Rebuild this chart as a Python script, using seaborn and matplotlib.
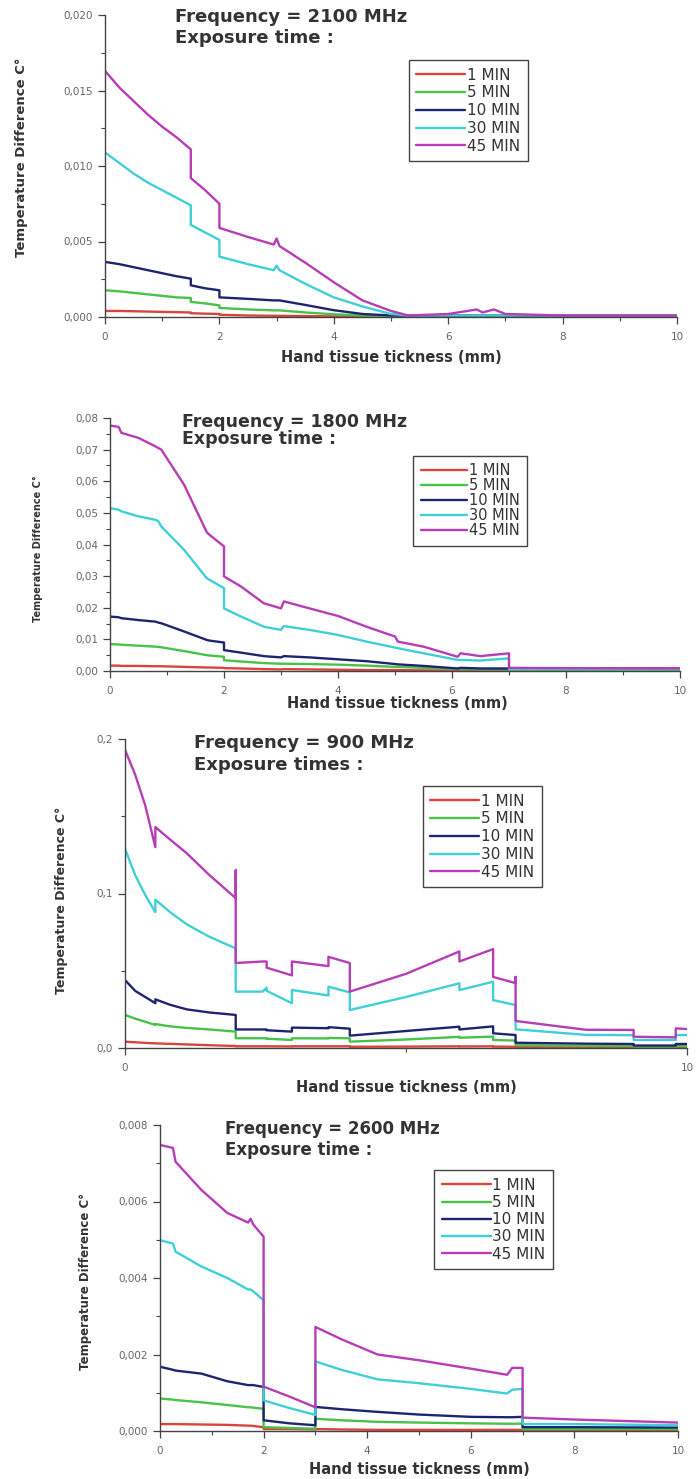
import matplotlib
matplotlib.use("Agg")
import numpy as np
import pandas as pd
import matplotlib.pyplot as plt
import seaborn as sns
from matplotlib.ticker import MultipleLocator, FuncFormatter

# series names and colours
LABELS = ["1 MIN", "5 MIN", "10 MIN", "30 MIN", "45 MIN"]
COLORS = ["#d9443c", "#49c24a", "#1f2470", "#3fcfd6", "#b83cb5"]

# ---- 2100 MHz ----
x_2100 = [0, 0.25, 0.5, 0.75, 1.0, 1.25, 1.5, 1.5, 1.75, 2.0, 2.0, 2.5, 2.95, 3.0, 3.05,
          3.5, 4.0, 4.5, 5.0, 5.3, 6.0, 6.5, 6.6, 6.8, 7.0, 8.0, 10.0]
t45_2100 = [0.0163, 0.0152, 0.0143, 0.0134, 0.0126, 0.0119, 0.0111, 0.0092, 0.0084, 0.0075,
            0.0059, 0.0053, 0.0048, 0.0052, 0.0047, 0.0036, 0.0023, 0.0011, 0.0004, 0.0001,
            0.0002, 0.0005, 0.0003, 0.0005, 0.0002, 0.0001, 0.0001]
t30_2100 = [0.0109, 0.0102, 0.0095, 0.0089, 0.0084, 0.0079, 0.0074, 0.0061, 0.0056, 0.0051,
            0.0040, 0.0035, 0.0031, 0.0034, 0.0031, 0.0022, 0.0013, 0.0007, 0.0002, 0.0001,
            0.0001, 0.0001, 0.0001, 0.0001, 0.0001, 0.0001, 0.0001]
t10_2100 = [0.00365, 0.0035, 0.0033, 0.0031, 0.0029, 0.0027, 0.00254, 0.0021, 0.0019, 0.00177,
            0.0013, 0.0012, 0.0011, 0.0011, 0.0011, 0.0008, 0.00045, 0.0002, 0.0001, 0.0001,
            0.0001, 0.0001, 0.0001, 0.0001, 0.0001, 0.0001, 0.0001]
t5_2100 = [0.00177, 0.0017, 0.0016, 0.0015, 0.0014, 0.0013, 0.00126, 0.0010, 0.0009, 0.00077,
           0.0006, 0.0005, 0.00044, 0.00044, 0.00044, 0.0003, 0.00018, 0.0001, 0.00004, 0.00003,
           0.00003, 0.00003, 0.00003, 0.00003, 0.00003, 0.00003, 0.00003]
t1_2100 = [0.0004, 0.0004, 0.00038, 0.00036, 0.00034, 0.00032, 0.0003, 0.00025, 0.00022, 0.0002,
           0.00015, 0.0001, 0.00008, 0.00008, 0.00008, 0.00006, 0.00004, 0.00002, 0.00001, 0.0,
           0.0, 0.0, 0.0, 0.0, 0.0, 0.0, 0.0]

# ---- 1800 MHz ----
x_1800 = [0, 0.15, 0.2, 0.5, 0.8, 0.85, 0.9, 1.3, 1.7, 1.75, 2.0, 2.0, 2.3, 2.7, 3.0, 3.05,
          3.5, 4.0, 4.5, 5.0, 5.05, 5.5, 6.1, 6.15, 6.5, 7.0, 7.0, 8.0, 10.0]
t45_1800 = [0.0776, 0.0772, 0.0753, 0.0737, 0.0710, 0.0705, 0.0700, 0.0589, 0.0438, 0.0430,
            0.0394, 0.0299, 0.0267, 0.0214, 0.0198, 0.0220, 0.0198, 0.0174, 0.0140, 0.0109,
            0.0093, 0.0077, 0.0045, 0.0056, 0.0047, 0.0056, 0.0010, 0.0009, 0.0008]
t30_1800 = [0.0515, 0.0510, 0.0505, 0.0489, 0.0478, 0.0473, 0.0457, 0.0383, 0.0293, 0.0288,
            0.0262, 0.0198, 0.0172, 0.0140, 0.0130, 0.0142, 0.0130, 0.0114, 0.0093, 0.0074,
            0.0072, 0.0056, 0.0035, 0.0035, 0.0033, 0.0040, 0.0006, 0.0006, 0.0006]
t10_1800 = [0.0172, 0.0170, 0.0167, 0.0161, 0.0156, 0.0153, 0.0151, 0.0125, 0.0098, 0.0096,
            0.0090, 0.0066, 0.0058, 0.0047, 0.0043, 0.0047, 0.0043, 0.0037, 0.0031, 0.0022,
            0.0021, 0.0016, 0.0008, 0.0010, 0.0008, 0.0008, 0.0008, 0.0008, 0.0008]
t5_1800 = [0.0085, 0.0084, 0.0083, 0.0080, 0.0077, 0.0076, 0.0075, 0.0063, 0.0050, 0.0049,
           0.0045, 0.0034, 0.0030, 0.0025, 0.0023, 0.0023, 0.0022, 0.0020, 0.0017, 0.0013,
           0.0013, 0.0010, 0.0006, 0.0006, 0.0005, 0.0005, 0.0004, 0.0004, 0.0003]
t1_1800 = [0.0017, 0.0017, 0.0016, 0.0016, 0.0015, 0.0015, 0.0015, 0.0013, 0.0011, 0.0011,
           0.0010, 0.0009, 0.0008, 0.0006, 0.0005, 0.0006, 0.0005, 0.0004, 0.0003, 0.0003,
           0.0003, 0.0002, 0.0002, 0.0002, 0.0002, 0.0002, 0.0001, 0.0001, 0.0001]

# ---- 900 MHz ----
x_900 = [0, 0.18, 0.36, 0.54, 0.54, 0.8, 1.1, 1.5, 1.97, 1.97, 1.97, 2.45, 2.52, 2.52,
         2.97, 2.97, 3.62, 3.62, 4.0, 4.0, 5.0, 5.95, 5.95, 6.55, 6.55, 6.95, 6.95, 6.95,
         8.2, 9.05, 9.05, 9.8, 9.8, 10.0]
t45_900 = [0.193, 0.177, 0.157, 0.130, 0.143, 0.135, 0.126, 0.112, 0.097, 0.115, 0.055, 0.056,
           0.056, 0.052, 0.047, 0.056, 0.053, 0.059, 0.055, 0.0365, 0.048, 0.0625, 0.056, 0.064,
           0.046, 0.042, 0.046, 0.0175, 0.0118, 0.0117, 0.0073, 0.0069, 0.0127, 0.0123]
t30_900 = [0.129, 0.112, 0.099, 0.088, 0.096, 0.088, 0.080, 0.072, 0.0645, 0.0645, 0.0365,
           0.0365, 0.039, 0.037, 0.029, 0.0375, 0.034, 0.0397, 0.036, 0.0246, 0.033, 0.0419,
           0.0375, 0.0429, 0.031, 0.0278, 0.0278, 0.0121, 0.0085, 0.0083, 0.0052, 0.0052,
           0.0084, 0.0084]
t10_900 = [0.044, 0.037, 0.033, 0.029, 0.0315, 0.028, 0.025, 0.023, 0.0214, 0.0214, 0.012,
           0.012, 0.012, 0.0115, 0.0106, 0.0132, 0.0128, 0.0135, 0.0125, 0.008, 0.011, 0.0138,
           0.012, 0.014, 0.0095, 0.0084, 0.0084, 0.0034, 0.0028, 0.0026, 0.0016, 0.0016,
           0.0026, 0.0026]
t5_900 = [0.0214, 0.019, 0.017, 0.0149, 0.0155, 0.014, 0.013, 0.012, 0.0106, 0.0106, 0.0063,
          0.0063, 0.0063, 0.006, 0.0052, 0.0063, 0.0062, 0.0065, 0.0063, 0.0041, 0.0055, 0.0072,
          0.0066, 0.0074, 0.0052, 0.0048, 0.0048, 0.0018, 0.0014, 0.0013, 0.0009, 0.0009,
          0.0012, 0.0012]
t1_900 = [0.0041, 0.0037, 0.0033, 0.003, 0.003, 0.0027, 0.0023, 0.0018, 0.0013, 0.0013, 0.0011,
          0.0011, 0.0011, 0.0011, 0.0010, 0.0011, 0.0011, 0.0011, 0.0011, 0.0008, 0.0009, 0.0011,
          0.0010, 0.0011, 0.0009, 0.0008, 0.0008, 0.0005, 0.0005, 0.0005, 0.0004, 0.0004,
          0.0004, 0.0004]

# ---- 2600 MHz ----
x_2600 = [0, 0.25, 0.3, 0.8, 1.3, 1.7, 1.75, 1.8, 2.0, 2.0, 2.5, 3.0, 3.0, 3.5, 4.2, 5.0,
          6.0, 6.7, 6.8, 7.0, 7.0, 8.0, 10.0]
t45_2600 = [0.00748, 0.0074, 0.00704, 0.0063, 0.0057, 0.00545, 0.00555, 0.0054, 0.00508,
            0.00116, 0.0009, 0.00062, 0.00272, 0.0024, 0.0020, 0.00185, 0.00163, 0.00147,
            0.00165, 0.00165, 0.00035, 0.0003, 0.00022]
t30_2600 = [0.00499, 0.0049, 0.00469, 0.0043, 0.0040, 0.0037, 0.0037, 0.00365, 0.00342,
            0.0008, 0.0006, 0.00042, 0.00182, 0.0016, 0.00135, 0.00125, 0.0011, 0.00098,
            0.00108, 0.0011, 0.00018, 0.00018, 0.00015]
t10_2600 = [0.00168, 0.0016, 0.00158, 0.0015, 0.0013, 0.0012, 0.0012, 0.0012, 0.00115,
            0.00028, 0.0002, 0.00015, 0.00063, 0.00057, 0.0005, 0.00043, 0.00037, 0.00036,
            0.00036, 0.00037, 0.0001, 0.0001, 0.00009]
t5_2600 = [0.00085, 0.00082, 0.00081, 0.00075, 0.00068, 0.00062, 0.00062, 0.00061, 0.00058,
           0.0001, 0.00008, 0.00006, 0.00032, 0.00028, 0.00024, 0.00022, 0.0002, 0.00019,
           0.00019, 0.00019, 0.00005, 0.00005, 0.00005]
t1_2600 = [0.00018, 0.00018, 0.00018, 0.00017, 0.00016, 0.00014, 0.00014, 0.00013, 0.0001,
           0.00005, 0.00005, 0.00004, 0.00005, 0.00004, 0.00003, 0.00003, 0.00003, 0.00003,
           0.00003, 0.00003, 0.00002, 0.00002, 0.00002]

W, H = 697, 1479

sns.set_style("ticks")
plt.rcParams["font.family"] = ["DejaVu Sans"]

fig = plt.figure(figsize=(W / 100, H / 100), dpi=100)
fig.patch.set_facecolor("white")

# layout per panel (pixel positions measured on the reference)
panels = [
    dict(x=x_2100, ys=[t1_2100, t5_2100, t10_2100, t30_2100, t45_2100],
         title="Frequency = 2100 MHz", sub="Exposure time :",
         box=(105, 15, 677, 317), ylim=0.020, ymaj=0.005, ymin=0.0025, xmaj=2, xmin=1, dec=3,
         txt=(175, 17, 38), tsize=13, ylab=(22, 157, 9.5), xlab=(391, 357, 10.5),
         leg=(0.531, 0.851), lsize=11, lspace=0.18),
    dict(x=x_1800, ys=[t1_1800, t5_1800, t10_1800, t30_1800, t45_1800],
         title="Frequency = 1800 MHz", sub="Exposure time :",
         box=(110, 418, 680, 671), ylim=0.08, ymaj=0.01, ymin=0.005, xmaj=2, xmin=1, dec=2,
         txt=(182, 422, 439), tsize=12.5, ylab=(38, 549, 7), xlab=(397, 703, 10.5),
         leg=(0.532, 0.850), lsize=10.5, lspace=0.0),
    dict(x=x_900, ys=[t1_900, t5_900, t10_900, t30_900, t45_900],
         title="Frequency = 900 MHz", sub="Exposure times :",
         box=(125, 739, 687, 1048), ylim=0.2, ymaj=0.1, ymin=0.05, xmaj=10, xmin=5, dec=1,
         txt=(194, 743, 765), tsize=13, ylab=(61, 900, 9), xlab=(406, 1088, 10.5),
         leg=(0.530, 0.848), lsize=11, lspace=0.18),
    dict(x=x_2600, ys=[t1_2600, t5_2600, t10_2600, t30_2600, t45_2600],
         title="Frequency = 2600 MHz", sub="Exposure time :",
         box=(160, 1125, 678, 1431), ylim=0.008, ymaj=0.002, ymin=0.001, xmaj=2, xmin=1, dec=3,
         txt=(225, 1129, 1150), tsize=12, ylab=(85, 1281, 8.5), xlab=(419, 1469, 10.5),
         leg=(0.529, 0.853), lsize=11, lspace=0.15),
]

for p in panels:
    l, t, r, b = p["box"]
    ax = fig.add_axes([l / W, 1 - b / H, (r - l) / W, (b - t) / H])

    n = len(p["x"])
    df = pd.DataFrame({
        "x": np.tile(p["x"], len(LABELS)),
        "y": np.concatenate(p["ys"]),
        "series": np.repeat(LABELS, n),
    })
    sns.lineplot(data=df, x="x", y="y", hue="series", hue_order=LABELS, palette=COLORS,
                 estimator=None, sort=False, lw=1.7, ax=ax, legend=True)

    ax.set_xlim(0, 10)
    ax.set_ylim(0, p["ylim"])
    ax.set_xlabel("")
    ax.set_ylabel("")
    ax.xaxis.set_major_locator(MultipleLocator(p["xmaj"]))
    ax.xaxis.set_minor_locator(MultipleLocator(p["xmin"]))
    ax.yaxis.set_major_locator(MultipleLocator(p["ymaj"]))
    ax.yaxis.set_minor_locator(MultipleLocator(p["ymin"]))
    d = p["dec"]
    ax.yaxis.set_major_formatter(FuncFormatter(lambda v, pos, d=d: f"{v:.{d}f}".replace(".", ",")))
    ax.xaxis.set_major_formatter(FuncFormatter(lambda v, pos: f"{v:.0f}"))
    ax.tick_params(which="major", length=5, width=0.9, color="#444444",
                   labelsize=7.5, labelcolor="#666666", direction="out")
    ax.tick_params(which="minor", length=3, width=0.8, color="#444444", direction="out")
    ax.tick_params(axis="x", pad=6)
    sns.despine(ax=ax)
    for s in ("left", "bottom"):
        ax.spines[s].set_color("#444444")
        ax.spines[s].set_linewidth(1.0)

    handles = ax.get_legend().legend_handles
    for h in handles:
        h.set_linewidth(1.7)
    ax.legend(handles, LABELS, loc="upper left", bbox_to_anchor=p["leg"], borderaxespad=0,
              fontsize=p["lsize"], handlelength=3.2, handletextpad=0.1,
              labelspacing=p["lspace"], borderpad=0.5, fancybox=False, framealpha=1,
              edgecolor="#444444")
    ax.get_legend().get_frame().set_linewidth(1.0)
    for txt in ax.get_legend().get_texts():
        txt.set_color("#333333")

    tx, ty1, ty2 = p["txt"]
    fig.text(tx / W, 1 - ty1 / H, p["title"], fontsize=p["tsize"], fontweight="bold",
             color="#333333", ha="left", va="center")
    fig.text(tx / W, 1 - ty2 / H, p["sub"], fontsize=p["tsize"], fontweight="bold",
             color="#333333", ha="left", va="center")
    yx, yy, ys = p["ylab"]
    fig.text(yx / W, 1 - yy / H, "Temperature Difference C°", fontsize=ys, fontweight="bold",
             color="#333333", rotation=90, ha="center", va="center")
    xx, xy, xs = p["xlab"]
    fig.text(xx / W, 1 - xy / H, "Hand tissue tickness (mm)", fontsize=xs, fontweight="bold",
             color="#333333", ha="center", va="center")

fig.savefig("out.png", dpi=100, facecolor="white")
